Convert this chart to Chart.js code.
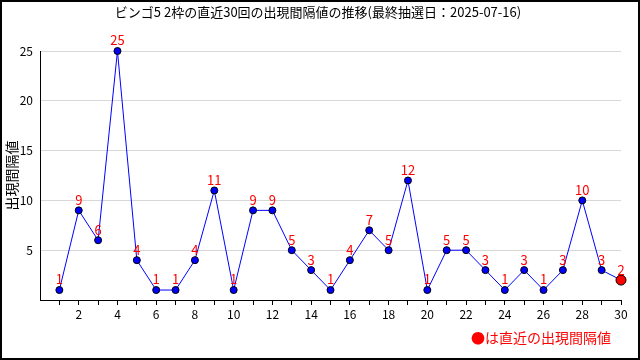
<!DOCTYPE html>
<html>
<head>
<meta charset="utf-8">
<script src="https://cdn.jsdelivr.net/npm/chart.js@4"></script>
<style>
  html, body { margin: 0; padding: 0; background: #fff; }
  #wrap { width: 640px; height: 360px; }
</style>
</head>
<body>
<div id="wrap"><canvas id="chart" width="640" height="360"></canvas></div>
<script>
const titleText = 'ビンゴ5 2枠の直近30回の出現間隔値の推移(最終抽選日：2025-07-16)';
const yTitle = '出現間隔値';
const noteText = '●は直近の出現間隔値';
const draws = [1,2,3,4,5,6,7,8,9,10,11,12,13,14,15,16,17,18,19,20,21,22,23,24,25,26,27,28,29,30];
const intervals = [1,9,6,25,4,1,1,4,11,1,9,9,5,3,1,4,7,5,12,1,5,5,3,1,3,1,3,10,3,2];
const yTicks = [0,5,10,15,20,25];

const FONT = '"Noto Sans CJK JP", "DejaVu Sans", sans-serif';
const last = intervals.length - 1;

// frame, title, value labels and the note at the bottom
const extras = {
    id: 'extras',
    afterDatasetsDraw(chart) {
        const ctx = chart.ctx;
        const meta = chart.getDatasetMeta(0);
        ctx.save();
        ctx.fillStyle = '#ff0000';
        ctx.font = '13px ' + FONT;
        ctx.textAlign = 'center';
        ctx.textBaseline = 'bottom';
        meta.data.forEach((pt, i) => {
            ctx.fillText(String(intervals[i]), pt.x, pt.y - 4);
        });
        ctx.restore();
    },
    afterDraw(chart) {
        const ctx = chart.ctx;
        ctx.save();
        ctx.strokeStyle = '#000';
        ctx.lineWidth = 2;
        ctx.strokeRect(1, 1, 638, 358);
        ctx.fillStyle = '#000';
        ctx.font = '13px ' + FONT;
        ctx.textAlign = 'center';
        ctx.textBaseline = 'middle';
        ctx.fillText(titleText, 318, 12);
        ctx.fillStyle = '#ff0000';
        ctx.font = '14px ' + FONT;
        ctx.textAlign = 'right';
        ctx.fillText(noteText, 611, 338);
        ctx.restore();
    }
};

new Chart(document.getElementById('chart'), {
    type: 'line',
    data: {
        datasets: [{
            data: draws.map((d, i) => ({ x: d, y: intervals[i] })),
            clip: false,
            borderColor: '#0000ff',
            borderWidth: 1,
            tension: 0,
            pointBackgroundColor: intervals.map((v, i) => i === last ? '#ff0000' : '#0000ff'),
            pointBorderColor: '#000',
            pointBorderWidth: 1,
            pointRadius: intervals.map((v, i) => i === last ? 5 : 3.5)
        }]
    },
    options: {
        responsive: false,
        animation: false,
        events: [],
        layout: { padding: { left: 0, right: 19, top: 51, bottom: 0 } },
        plugins: { legend: { display: false }, tooltip: { enabled: false } },
        scales: {
            x: {
                type: 'linear',
                min: 0,
                max: 30,
                afterBuildTicks: (scale) => { scale.ticks = draws.map(d => ({ value: d })); },
                afterFit: (scale) => { scale.height = 60; },
                border: { display: true, color: '#000', width: 1 },
                grid: { drawOnChartArea: false, drawTicks: true, tickLength: 5, color: '#000' },
                ticks: {
                    autoSkip: false,
                    maxRotation: 0,
                    padding: 2,
                    color: '#000',
                    font: { family: FONT, size: 12 },
                    callback: (v) => (v % 2 === 0 ? String(v) : '')
                }
            },
            y: {
                min: 0,
                max: 25,
                afterBuildTicks: (scale) => { scale.ticks = yTicks.map(v => ({ value: v })); },
                afterFit: (scale) => { scale.width = 40; },
                border: { display: true, color: '#000', width: 1 },
                grid: { drawTicks: false, color: (c) => (c.tick && c.tick.value === 0 ? 'rgba(0,0,0,0)' : '#d8d8d8') },
                title: {
                    display: true,
                    text: yTitle,
                    color: '#000',
                    padding: { top: 3, bottom: 0 },
                    font: { family: FONT, size: 14 }
                },
                ticks: {
                    padding: 7,
                    color: '#000',
                    font: { family: FONT, size: 12 },
                    callback: (v) => (v === 0 ? '' : String(v))
                }
            }
        }
    },
    plugins: [extras]
});
</script>
</body>
</html>
